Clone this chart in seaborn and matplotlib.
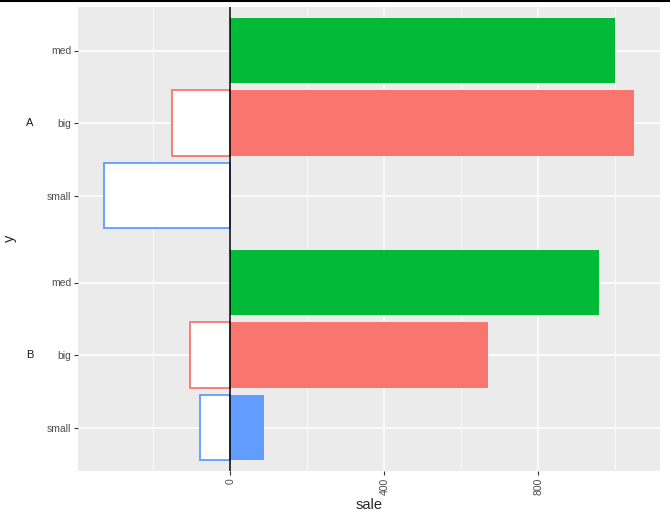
import pandas as pd
import matplotlib.pyplot as plt
import matplotlib.lines as mlines
import matplotlib.transforms as mtransforms
import seaborn as sns

# values
groups = ["A", "A", "A", "B", "B", "B"]
sizes = ["med", "big", "small", "med", "big", "small"]
sale_pos = [1000, 1047, 0, 958, 670, 88]
sale_neg = [0, -151, -327, 0, -106, -78]

size_order = ["big", "med", "small"]
palette = {"big": "#F8766D", "med": "#00BA38", "small": "#619CFF"}

df = pd.DataFrame({"group": groups, "size": sizes, "pos_sale": sale_pos, "neg_sale": sale_neg})
# facet-like layout: 3 rows per group, extra 0.2 gap between groups
group_idx = {"A": 0, "B": 1}
within = {"med": 0, "big": 1, "small": 2}
df["ypos"] = [group_idx[g] * 3.2 + within[s] for g, s in zip(df["group"], df["size"])]

sns.set_style("darkgrid", {"axes.facecolor": "#EBEBEB", "grid.color": "white"})
plt.rcParams["font.family"] = ["Liberation Sans", "DejaVu Sans"]

fig = plt.figure(figsize=(6.7, 5.21), dpi=100)
ax = fig.add_axes([78 / 670, 50 / 521, 582 / 670, 464 / 521])

neg = df[df["neg_sale"] != 0]
pos = df[df["pos_sale"] != 0]

sns.barplot(data=neg, x="neg_sale", y="ypos", hue="size", palette=palette,
            hue_order=size_order, orient="h", native_scale=True, dodge=False,
            width=0.9, legend=False, linewidth=0, errorbar=None, saturation=1, ax=ax)
neg_patches = list(ax.patches)
for p in neg_patches:
    c = p.get_facecolor()
    p.set_facecolor("white")
    p.set_edgecolor(c)
    p.set_linewidth(1.3)

sns.barplot(data=pos, x="pos_sale", y="ypos", hue="size", palette=palette,
            hue_order=size_order, orient="h", native_scale=True, dodge=False,
            width=0.9, legend=False, linewidth=0, errorbar=None, saturation=1, ax=ax)

ax.axvline(0, color="black", lw=1.1, zorder=5)

lo = min(sale_neg)
hi = max(sale_pos)
pad = 0.05 * (hi - lo)
ax.set_xlim(lo - pad, hi + pad)
ax.set_ylim(5.8, -0.6)

ax.set_xticks([0, 400, 800])
ax.set_xticklabels(["0", "400", "800"], rotation=90)
ax.set_xticks([-200, 200, 600, 1000], minor=True)
ax.set_yticks(df["ypos"])
ax.set_yticklabels(df["size"])
ax.grid(which="major", color="white", lw=1.1)
ax.grid(which="minor", axis="x", color="white", lw=0.55)
ax.tick_params(which="major", length=3, width=0.8, color="#333333",
               labelcolor="#4D4D4D", labelsize=7.5, pad=2, left=True, bottom=True)
ax.tick_params(which="minor", length=0)
for s in ax.spines.values():
    s.set_visible(False)

ax.set_xlabel("sale", fontsize=10.5, labelpad=2)
ax.set_ylabel("")

# group labels (strip text outside) and y title
trans = mtransforms.blended_transform_factory(fig.transFigure, ax.transData)
for g, gi in group_idx.items():
    ax.text(30 / 670, gi * 3.2 + 1, g, transform=trans, ha="center", va="center",
            fontsize=8, color="#1A1A1A")
fig.text(10 / 670, 1 - 238 / 521, "y", rotation=90, ha="center", va="center", fontsize=10.5)

fig.add_artist(mlines.Line2D([0, 1], [0.999, 0.999], color="black", lw=1.5,
                             transform=fig.transFigure))

fig.savefig("out.png", dpi=100)
